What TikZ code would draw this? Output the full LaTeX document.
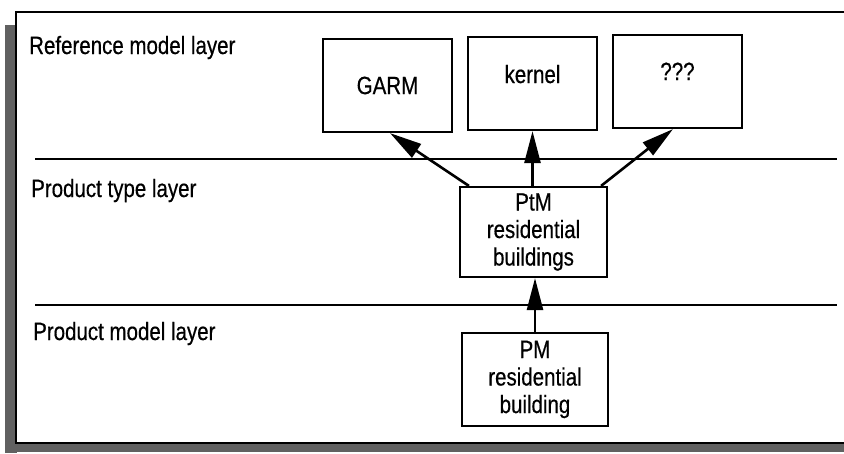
\documentclass[tikz,border=0pt]{standalone}
\usepackage{fontspec}
\setmainfont[FakeStretch=0.82, FakeBold=0.5]{Liberation Sans}
\usetikzlibrary{arrows.meta}

\begin{document}
\begin{tikzpicture}[
                x=1pt, y=-1pt,
                every node/.style={font=\fontsize{25}{27.5}\selectfont},
                frameline/.style={draw=black, line width=2.2pt},
                shade/.style={fill=black!62},
                layerline/.style={draw=black, line width=2.2pt},
                layerlabel/.style={anchor=base west, inner sep=0pt},
                modelbox/.style={draw=black, line width=2.2pt, inner sep=0pt,
                    minimum width=129pt, minimum height=93pt},
                typebox/.style={modelbox, align=center, minimum width=147pt, minimum height=90pt},
                derives/.style={draw=black, line width=2.6pt,
                    -{Triangle[length=32pt, width=16pt]}}]
        \useasboundingbox (0,0) rectangle (844,453);

        % Shaded frame on the left and at the bottom.
        \fill[shade] (5,25) rectangle (17,453);
        \fill[shade] (5,443) rectangle (844,452);
        \draw[frameline] (844,12) -- (16,12) -- (16,443) -- (844,443);

        % Layer separators and their names.
        \draw[layerline] (35,159) -- (837,159);
        \draw[layerline] (35,305) -- (837,305);
        \node[layerlabel] (refLayer) at (29,54) {Reference model layer};
        \node[layerlabel] (typeLayer) at (31,197) {Product type layer};
        \node[layerlabel] (prodLayer) at (33,340) {Product model layer};

        % Reference models.
        \node[modelbox] (garm) at (387.5,85.5) {GARM};
        \node[modelbox, text height=18pt, text depth=19pt] (kernel) at (532.5,83.5) {kernel};
        \node[modelbox, text height=18pt, text depth=21pt] (unknown) at (677.5,81.5) {???};

        % Product type and product model.
        \node[typebox] (ptm) at (533.5,232) {PtM\\residential\\buildings};
        \node[typebox, minimum width=146pt, minimum height=93pt] (pm) at (535,379.5)
                {PM\\residential\\building};

        % Derivation arrows.
        \draw[derives] ([xshift=10pt]ptm.north west) -- ([xshift=2.5pt]garm.south);
        \draw[derives] (ptm.north -| kernel.south) -- (kernel.south);
        \draw[derives] ([xshift=-7pt]ptm.north east) -- ([xshift=-4.5pt]unknown.south);
        \draw[derives] (pm.north) -- (pm.north |- ptm.south);
\end{tikzpicture}
\end{document}
